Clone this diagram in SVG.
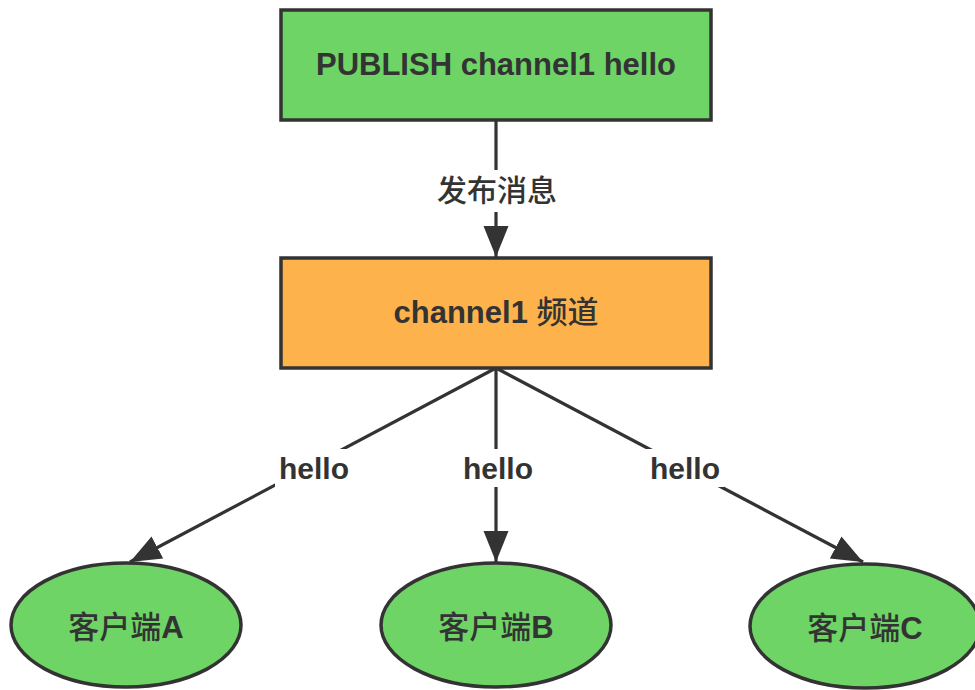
<svg xmlns="http://www.w3.org/2000/svg" width="975" height="690" viewBox="0 0 975 690">
<defs>
<style>
.box{stroke:#333;stroke-width:3.5}
.g{fill:#6dd465}
.o{fill:#fdb24b}
.t{font-family:"Liberation Sans","Noto Sans CJK SC",sans-serif;font-weight:bold;font-size:31px;fill:#333;text-anchor:middle}
.l{font-family:"Liberation Sans","Noto Sans CJK SC",sans-serif;font-size:30px;font-weight:bold;fill:#333;text-anchor:middle}
.c{font-weight:500}
.e{stroke:#333;stroke-width:3.2;fill:none}
.bg{fill:#fff}
</style>
<marker id="ah" markerUnits="userSpaceOnUse" markerWidth="34" markerHeight="26" refX="31" refY="12.5" orient="auto">
<path d="M0,0 L31,12.5 L0,25 Z" fill="#333"/>
</marker>
</defs>
<rect width="975" height="690" fill="#fff"/>
<g id="connectors">
<line class="e" x1="496" y1="121" x2="496" y2="257" marker-end="url(#ah)"/>
<line class="e" x1="496" y1="368" x2="130" y2="562" marker-end="url(#ah)"/>
<line class="e" x1="496" y1="368" x2="496" y2="562" marker-end="url(#ah)"/>
<line class="e" x1="496" y1="368" x2="863" y2="562" marker-end="url(#ah)"/>
<rect class="bg" x="430" y="170" width="134" height="42"/>
<text class="l c" x="497" y="201">发布消息</text>
<rect class="bg" x="275" y="449" width="78" height="38"/>
<text class="l" x="314" y="479">hello</text>
<rect class="bg" x="459" y="449" width="78" height="38"/>
<text class="l" x="498" y="479">hello</text>
<rect class="bg" x="646" y="449" width="78" height="38"/>
<text class="l" x="685" y="479">hello</text>
</g>
<g id="publish">
<rect class="box g" x="281" y="10" width="430" height="110"/>
<text class="t" x="496" y="75">PUBLISH channel1 hello</text>
</g>
<g id="channel">
<rect class="box o" x="281" y="258" width="430" height="110"/>
<text class="t" x="496" y="323">channel1 <tspan class="c">频道</tspan></text>
</g>
<g id="clientA">
<ellipse class="box g" cx="126" cy="625" rx="115" ry="62"/>
<text class="t" x="126" y="638"><tspan class="c">客户端</tspan>A</text>
</g>
<g id="clientB">
<ellipse class="box g" cx="496" cy="625" rx="115" ry="62"/>
<text class="t" x="496" y="638"><tspan class="c">客户端</tspan>B</text>
</g>
<g id="clientC">
<ellipse class="box g" cx="865" cy="626" rx="115" ry="62"/>
<text class="t" x="865" y="639"><tspan class="c">客户端</tspan>C</text>
</g>
</svg>
